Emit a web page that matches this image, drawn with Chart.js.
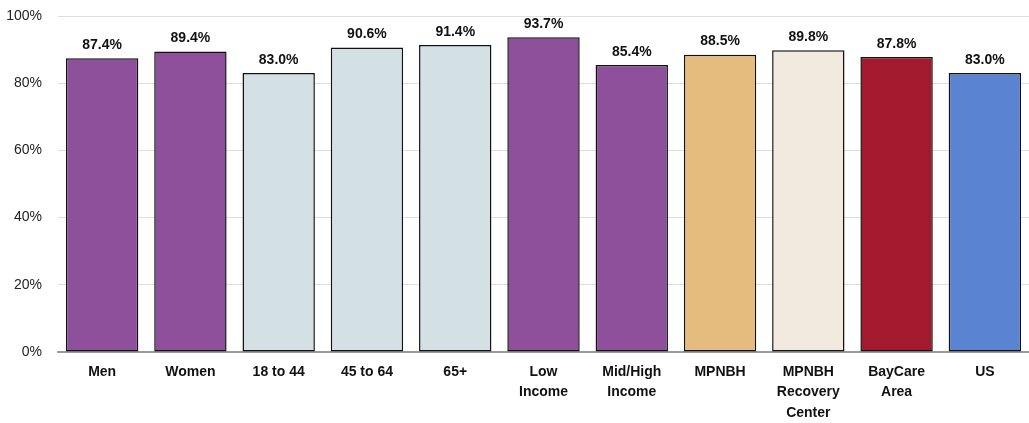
<!DOCTYPE html>
<html>
<head>
<meta charset="utf-8">
<script src="https://cdn.jsdelivr.net/npm/chart.js@4/dist/chart.umd.min.js"></script>
<style>
  html, body { margin: 0; padding: 0; background: #fff; }
  #wrap { width: 1029px; height: 423px; }
</style>
</head>
<body>
<div id="wrap"><canvas id="myChart"></canvas></div>
<script>
// categories (multi-line labels)
const categories = [
  'Men', 'Women', '18 to 44', '45 to 64', '65+',
  ['Low', 'Income'], ['Mid/High', 'Income'], 'MPNBH',
  ['MPNBH', 'Recovery', 'Center'], ['BayCare', 'Area'], 'US'
];
const values = [87.4, 89.4, 83.0, 90.6, 91.4, 93.7, 85.4, 88.5, 89.8, 87.8, 83.0];
const barColors = [
  '#8E509B', '#8E509B', '#D3E0E4', '#D3E0E4', '#D3E0E4',
  '#8E509B', '#8E509B', '#E5BC7E', '#F2EADF', '#A31A2F', '#5A83D1'
];
const yTicks = [0, 20, 40, 60, 80, 100];

// draw value labels above each bar
const valueLabels = {
  id: 'valueLabels',
  afterDatasetsDraw(chart) {
    const ctx = chart.ctx;
    const meta = chart.getDatasetMeta(0);
    ctx.save();
    ctx.font = 'bold 14px "Liberation Sans", Arial, sans-serif';
    ctx.fillStyle = '#111';
    ctx.textAlign = 'center';
    ctx.textBaseline = 'bottom';
    meta.data.forEach((bar, i) => {
      ctx.fillText(values[i].toFixed(1) + '%', bar.x, bar.y - 6);
    });
    ctx.restore();
  }
};

const ctx = document.getElementById('myChart').getContext('2d');
new Chart(ctx, {
  type: 'bar',
  data: {
    labels: categories,
    datasets: [{
      data: values,
      backgroundColor: barColors,
      borderColor: '#111',
      borderWidth: 1.5,
      borderSkipped: false,
      barPercentage: 0.82,
      categoryPercentage: 1.0
    }]
  },
  options: {
    responsive: true,
    maintainAspectRatio: false,
    animation: false,
    layout: { padding: { top: 16, right: 0, bottom: 0, left: 0 } },
    scales: {
      x: {
        grid: { display: false, drawTicks: false },
        border: { color: '#9a9a9a', width: 2 },
        afterFit: (axis) => { axis.height = 71; },
        ticks: {
          color: '#111',
          padding: 10,
          maxRotation: 0,
          autoSkip: false,
          font: { family: '"Liberation Sans", Arial, sans-serif', size: 14, weight: 'bold', lineHeight: 1.45 }
        }
      },
      y: {
        min: 0,
        max: 100,
        afterBuildTicks: (axis) => { axis.ticks = yTicks.map(v => ({ value: v })); },
        afterFit: (axis) => { axis.width = 58; axis.paddingTop = 0; axis.paddingBottom = 0; },
        grid: { color: '#dedede', lineWidth: 1, drawTicks: false },
        border: { display: false },
        ticks: {
          color: '#222',
          padding: 16,
          font: { family: '"Liberation Sans", Arial, sans-serif', size: 14 },
          callback: (value) => value + '%'
        }
      }
    },
    plugins: {
      legend: { display: false },
      tooltip: { enabled: false }
    }
  },
  plugins: [valueLabels]
});
</script>
</body>
</html>
